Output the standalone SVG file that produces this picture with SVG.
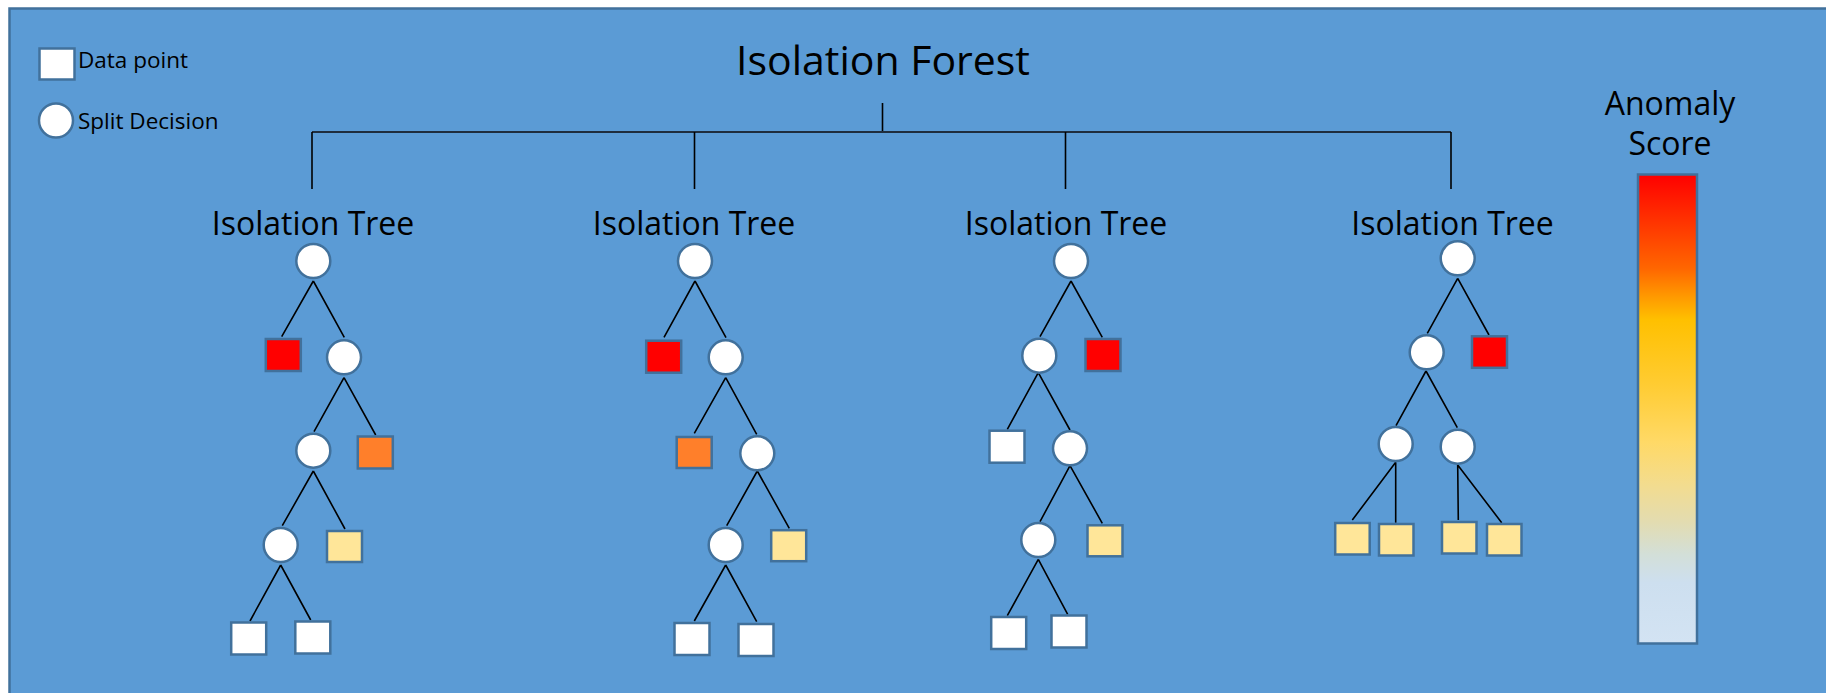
<svg xmlns="http://www.w3.org/2000/svg" width="1826" height="693" viewBox="0 0 1826 693">
<defs>
<linearGradient id="score" x1="0" y1="0" x2="0" y2="1">
<stop offset="0" stop-color="#FF0000"/>
<stop offset="0.10" stop-color="#FF3300"/>
<stop offset="0.20" stop-color="#FF6600"/>
<stop offset="0.26" stop-color="#FF9900"/>
<stop offset="0.31" stop-color="#FFC000"/>
<stop offset="0.45" stop-color="#FFCC33"/>
<stop offset="0.57" stop-color="#FFD966"/>
<stop offset="0.66" stop-color="#F3DC8E"/>
<stop offset="0.74" stop-color="#E3DCB0"/>
<stop offset="0.81" stop-color="#D3DFD8"/>
<stop offset="0.87" stop-color="#CDDFEF"/>
<stop offset="1" stop-color="#D3E3F3"/>
</linearGradient>
<style>
text{font-family:"Open Sans","Liberation Sans",sans-serif;fill:#000}
.title{font-size:41px;text-anchor:middle}
.tree{font-size:32px;text-anchor:middle}
.leg{font-size:22.5px}
.c{fill:#fff;stroke:#41719C;stroke-width:2.5}
.sq{stroke:#41719C;stroke-width:2.5}
.w{fill:#fff}.r{fill:#FF0000}.o{fill:#FF7F2A}.y{fill:#FFE699}
.e{stroke:#000;stroke-width:1.6;fill:none}
</style>
</defs>
<rect id="background" x="9.5" y="8.5" width="1830" height="700" fill="#5B9BD5" stroke="#41719C" stroke-width="2.5"/>

<g id="legend">
<rect class="sq w" x="39.5" y="48.5" width="35" height="31"/>
<text class="leg" x="78" y="68">Data point</text>
<circle class="c" cx="56" cy="120.5" r="17"/>
<text class="leg" x="78" y="129">Split Decision</text>
</g>

<text id="title" class="title" x="883" y="75">Isolation Forest</text>

<g id="connectors">
<line x1="882.5" y1="103" x2="882.5" y2="132" stroke="#000" stroke-width="1.6"/>
<line x1="312" y1="132" x2="1451" y2="132" stroke="#1F2D3D" stroke-width="2"/>
<line x1="312" y1="132" x2="312" y2="189" stroke="#000" stroke-width="1.6"/>
<line x1="694.5" y1="132" x2="694.5" y2="189" stroke="#000" stroke-width="1.6"/>
<line x1="1065.5" y1="132" x2="1065.5" y2="189" stroke="#000" stroke-width="1.6"/>
<line x1="1451" y1="132" x2="1451" y2="189" stroke="#000" stroke-width="1.6"/>
<!-- tree 1 -->
<path class="e" d="M313.3 281L281.7 336.7M313.3 281L344.3 337.3M344 377.7L314 431.7M344 377.7L375.7 435M313.3 471L282.3 525.7M313.3 471L345 529M280.7 565L250 621M280.7 565L310.7 620"/>
<!-- tree 2 -->
<path class="e" d="M695 281L664 337.3M695 281L726 337.7M725.7 377.7L694.3 433.3M725.7 377.7L756.7 434.3M757.3 471L726.7 525.7M757.3 471L789.3 528.3M725.7 565L694.3 621M725.7 565L756.7 621.7"/>
<!-- tree 3 -->
<path class="e" d="M1071 281L1040 336.7M1071 281L1102.3 337.3M1038.3 372.7L1007.3 429.3M1038.3 372.7L1070 430M1070 465.7L1040 521.7M1070 465.7L1102.3 523.3M1038.3 559.3L1007.3 615.7M1038.3 559.3L1067.7 614.3"/>
<!-- tree 4 -->
<path class="e" d="M1457.7 278.3L1427.3 333.3M1457.7 278.3L1489 335M1426 371L1396 425.7M1426 371L1457.3 427.7M1395.7 462.3L1352.3 520M1395.7 462.3L1395.7 522.7M1457.7 465L1458.3 520M1457.7 465L1501.7 522.7"/>
</g>

<g id="tree1">
<text class="tree" x="313" y="234.5">Isolation Tree</text>
<circle id="t1-n1" class="c" cx="313.3" cy="261" r="17"/>
<rect id="t1-l1" class="sq r" x="265.8" y="339" width="35" height="32"/>
<circle id="t1-n2" class="c" cx="344" cy="357.3" r="17"/>
<circle id="t1-n3" class="c" cx="313.3" cy="450.7" r="17"/>
<rect id="t1-l2" class="sq o" x="357.8" y="436.5" width="35" height="32"/>
<circle id="t1-n4" class="c" cx="280.7" cy="545" r="17"/>
<rect id="t1-l3" class="sq y" x="327" y="531" width="35" height="31"/>
<rect id="t1-l4" class="sq w" x="231.2" y="622.5" width="35" height="32"/>
<rect id="t1-l5" class="sq w" x="295.3" y="621.5" width="35" height="32"/>
</g>

<g id="tree2">
<text class="tree" x="694" y="234.5">Isolation Tree</text>
<circle id="t2-n1" class="c" cx="695" cy="261" r="17"/>
<rect id="t2-l1" class="sq r" x="646.2" y="340.7" width="35" height="32"/>
<circle id="t2-n2" class="c" cx="725.7" cy="357.3" r="17"/>
<rect id="t2-l2" class="sq o" x="676.7" y="437" width="35" height="31"/>
<circle id="t2-n3" class="c" cx="757.3" cy="453.3" r="17"/>
<circle id="t2-n4" class="c" cx="725.7" cy="545" r="17"/>
<rect id="t2-l3" class="sq y" x="771.2" y="530.2" width="35" height="31"/>
<rect id="t2-l4" class="sq w" x="674.5" y="623" width="35" height="32"/>
<rect id="t2-l5" class="sq w" x="738.5" y="624" width="35" height="32"/>
</g>

<g id="tree3">
<text class="tree" x="1066" y="234.5">Isolation Tree</text>
<circle id="t3-n1" class="c" cx="1071" cy="261" r="17"/>
<circle id="t3-n2" class="c" cx="1039.3" cy="355.7" r="17"/>
<rect id="t3-l1" class="sq r" x="1085.5" y="339" width="35" height="32"/>
<rect id="t3-l2" class="sq w" x="989.5" y="430.7" width="35" height="32"/>
<circle id="t3-n3" class="c" cx="1070" cy="448.3" r="17"/>
<circle id="t3-n4" class="c" cx="1038.3" cy="540" r="17"/>
<rect id="t3-l3" class="sq y" x="1087.5" y="525.3" width="35" height="31"/>
<rect id="t3-l4" class="sq w" x="991.2" y="617" width="35" height="32"/>
<rect id="t3-l5" class="sq w" x="1051.5" y="615.5" width="35" height="32"/>
</g>

<g id="tree4">
<text class="tree" x="1452.5" y="234.5">Isolation Tree</text>
<circle id="t4-n1" class="c" cx="1457.7" cy="258.3" r="17"/>
<circle id="t4-n2" class="c" cx="1426.7" cy="352.3" r="17"/>
<rect id="t4-l1" class="sq r" x="1472" y="336.3" width="35" height="31.5"/>
<circle id="t4-n3" class="c" cx="1395.7" cy="444" r="17"/>
<circle id="t4-n4" class="c" cx="1457.7" cy="446.7" r="17"/>
<rect id="t4-l2" class="sq y" x="1335.2" y="523" width="34.5" height="31.5"/>
<rect id="t4-l3" class="sq y" x="1379" y="524" width="34.5" height="31.5"/>
<rect id="t4-l4" class="sq y" x="1442" y="522" width="34.5" height="31.5"/>
<rect id="t4-l5" class="sq y" x="1487" y="524" width="34.5" height="31.5"/>
</g>

<g id="anomaly-score">
<text class="tree" x="1670" y="115">Anomaly</text>
<text class="tree" x="1670" y="155">Score</text>
<rect x="1638" y="174.5" width="59" height="469" fill="url(#score)" stroke="#41719C" stroke-width="2.5"/>
</g>
</svg>
